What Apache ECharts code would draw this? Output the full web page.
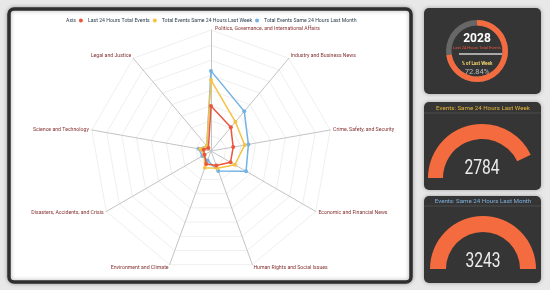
<!DOCTYPE html>
<html><head><meta charset="utf-8">
<script src="https://cdn.jsdelivr.net/npm/echarts@6/dist/echarts.min.js"></script>
<style>html,body{margin:0;padding:0;background:#e8e8e8;}#c{width:550px;height:290px;}</style>
</head><body><div id="c"></div>
<script>
// radar categories (ECharts order: counter-clockwise from top)
const categories = ['Politics, Governance, and International Affairs','Legal and Justice','Science and Technology','Disasters, Accidents, and Crisis','Environment and Climate','Human Rights and Social Issues','Economic and Financial News','Crime, Safety, and Security','Industry and Business News'];
const seriesNames = ['Last 24 Hours Total Events','Total Events Same 24 Hours Last Week','Total Events Same 24 Hours Last Month'];
const last24 = [540, 48, 90, 90, 165, 185, 270, 270, 370];
const lastWeek = [850, 79, 130, 95, 215, 220, 330, 410, 455];
const lastMonth = [960, 78, 150, 120, 120, 255, 485, 455, 620];
const axisMax = 1450;
const totals = [2028, 2784, 3243];

const colors = ['#e9573c','#f5c244','#72b2e4'];
const orange = '#f46b3f';
const pct = (totals[0] / totals[1] * 100).toFixed(2) + '%';

const nameFont = 5.2;
const mctx = document.createElement('canvas').getContext('2d');
mctx.font = nameFont + 'px Roboto';
const topW = mctx.measureText(categories[0]).width;

const numStyle = (t) => ({text:String(t), fill:'#ececec', font:'20px Roboto', align:'center', verticalAlign:'middle'});

const chart = echarts.init(document.getElementById('c'));
chart.setOption({
  animation: false,
  graphic: [
    {type:'rect', shape:{x:9,y:9,width:402,height:273,r:5}, style:{fill:'#fff',stroke:'#2e2e2e',lineWidth:3.5, shadowBlur:4, shadowColor:'rgba(0,0,0,0.3)'}, z:-10},
    {type:'rect', shape:{x:424,y:8,width:117,height:86,r:5}, style:{fill:'#353535', shadowBlur:4, shadowColor:'rgba(0,0,0,0.3)'}, z:-10},
    {type:'rect', shape:{x:424,y:102,width:117,height:88,r:5}, style:{fill:'#353535', shadowBlur:4, shadowColor:'rgba(0,0,0,0.3)'}, z:-10},
    {type:'rect', shape:{x:424,y:196,width:117,height:87,r:5}, style:{fill:'#353535', shadowBlur:4, shadowColor:'rgba(0,0,0,0.3)'}, z:-10},
    {type:'text', x:477, y:39, style:{text:String(totals[0]), fill:'#fff', font:'bold 12px Roboto', align:'center', verticalAlign:'middle'}},
    {type:'text', x:477, y:47.5, style:{text:'Last 24 Hours Total Events', fill:'#e9573c', font:'4px Roboto', align:'center', verticalAlign:'middle'}},
    {type:'line', shape:{x1:459,y1:54,x2:502,y2:54}, style:{stroke:'#cfcfcf', lineWidth:1.5}},
    {type:'text', x:477, y:64, style:{text:'% of Last Week', fill:'#f1d36a', font:'bold 4.5px Roboto', align:'center', verticalAlign:'middle'}},
    {type:'text', x:477, y:72.5, style:{text:pct, fill:'#bdbdbd', font:'7.5px Roboto', align:'center', verticalAlign:'middle'}},
    {type:'text', x:483, y:108, style:{text:'Events: Same 24 Hours Last Week', fill:'#e4b53a', font:'6.2px Roboto', align:'center', verticalAlign:'middle'}},
    {type:'line', shape:{x1:424,y1:113,x2:541,y2:113}, style:{stroke:'#4c4c4c', lineWidth:1}},
    {type:'text', x:483, y:201, style:{text:'Events: Same 24 Hours Last Month', fill:'#7fb0dc', font:'6.2px Roboto', align:'center', verticalAlign:'middle'}},
    {type:'line', shape:{x1:424,y1:206,x2:541,y2:206}, style:{stroke:'#4c4c4c', lineWidth:1}},
    {type:'text', x:482, y:169, scaleX:0.78, style:numStyle(totals[1])},
    {type:'text', x:483, y:262, scaleX:0.78, style:numStyle(totals[2])}
  ],
  legend: {
    top: 13, left: 52, itemWidth: 4, itemHeight: 4, itemGap: 3,
    icon: 'circle',
    textStyle: {fontSize: 5.2, color: '#2e4150', fontFamily: 'Roboto'},
    data: [{name:'Axis', icon:'none'}].concat(seriesNames)
  },
  radar: {
    center: [211, 151], radius: 121, startAngle: 90, splitNumber: 8,
    shape: 'polygon',
    indicator: categories.map(n => ({name: n, max: axisMax})),
    axisName: {
      color: '#843030', fontSize: nameFont, fontFamily: 'Roboto',
      formatter: (v) => v === categories[0] ? '{p|' + v + '}' : v,
      rich: {p: {color:'#843030', fontSize:nameFont, fontFamily:'Roboto', padding:[0,0,-4,topW + 8]}}
    },
    nameGap: 3,
    axisLine: {lineStyle: {color: '#c4c4c4', width: 1}},
    splitLine: {lineStyle: {color: '#efefef', width: 1}},
    splitArea: {show: false}
  },
  series: [
    {type:'radar', name:'Axis', data:[], itemStyle:{color:'transparent'}},
    {type:'radar', symbol:'circle', symbolSize:4, z:4,
     data:[{name:seriesNames[0], value:last24, itemStyle:{color:colors[0]}, lineStyle:{color:colors[0], width:1.5}}]},
    {type:'radar', symbol:'circle', symbolSize:4, z:3,
     data:[{name:seriesNames[1], value:lastWeek, itemStyle:{color:colors[1]}, lineStyle:{color:colors[1], width:1.5}}]},
    {type:'radar', symbol:'circle', symbolSize:4, z:2,
     data:[{name:seriesNames[2], value:lastMonth, itemStyle:{color:colors[2]}, lineStyle:{color:colors[2], width:1.5}}]},
    {type:'gauge', center:[477,51], radius:31, startAngle:90, endAngle:-270, min:0, max:totals[1],
     progress:{show:true, width:5.5, itemStyle:{color:orange}},
     axisLine:{lineStyle:{width:5.5, color:[[1,'#676767']]}},
     pointer:{show:false}, axisTick:{show:false}, splitLine:{show:false}, axisLabel:{show:false},
     title:{show:false}, detail:{show:false}, data:[{value:totals[0]}]},
    {type:'gauge', center:[482,178], radius:54, startAngle:180, endAngle:0, min:0, max:totals[2],
     progress:{show:true, width:15, itemStyle:{color:orange}},
     axisLine:{lineStyle:{width:15, color:[[1,'rgba(0,0,0,0)']]}},
     pointer:{show:false}, axisTick:{show:false}, splitLine:{show:false}, axisLabel:{show:false},
     title:{show:false}, detail:{show:false}, data:[{value:totals[1]}]},
    {type:'gauge', center:[483,269], radius:53, startAngle:180, endAngle:0, min:0, max:totals[2],
     progress:{show:true, width:16, itemStyle:{color:orange}},
     axisLine:{lineStyle:{width:16, color:[[1,'rgba(0,0,0,0)']]}},
     pointer:{show:false}, axisTick:{show:false}, splitLine:{show:false}, axisLabel:{show:false},
     title:{show:false}, detail:{show:false}, data:[{value:totals[2]}]}
  ]
});
</script></body></html>
